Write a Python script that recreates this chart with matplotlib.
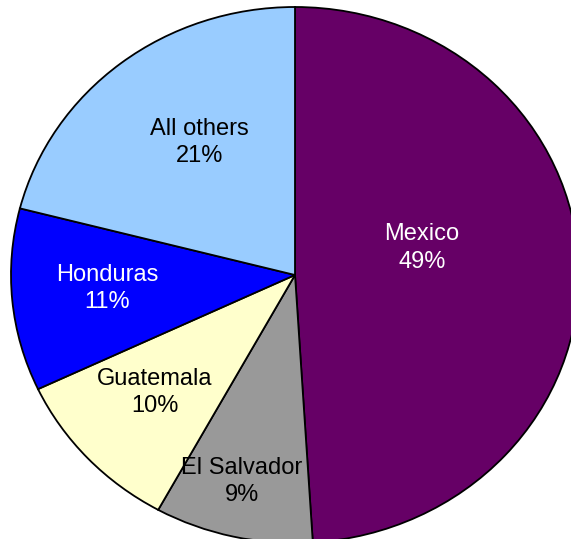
import matplotlib.pyplot as plt

plt.rcParams['font.family'] = ['Liberation Sans', 'DejaVu Sans']

countries = ['Mexico', 'El Salvador', 'Guatemala', 'Honduras', 'All others']
shares = [49, 9, 10, 11, 21]
colors = ['#660066', '#999999', '#FFFFCC', '#0000FF', '#99CCFF']
text_colors = ['white', 'black', 'black', 'white', 'black']
# label centres in data units (radius = 1)
label_pos = [(0.447, 0.100), (-0.187, -0.770), (-0.493, -0.438),
             (-0.662, -0.050), (-0.335, 0.495)]

fig = plt.figure(figsize=(5.71, 5.39), dpi=100)
ax = fig.add_axes([0, 0, 1, 1])

wedges, _ = ax.pie(shares, colors=colors, startangle=90, counterclock=False,
                   wedgeprops=dict(edgecolor='black', linewidth=1.3))

for name, val, c, (x, y) in zip(countries, shares, text_colors, label_pos):
    ax.text(x, y, f'{name}\n{val}%', ha='center', va='center',
            color=c, fontsize=17, linespacing=1.32)

# slightly squashed pie, cropped at right/bottom like the original
ax.set_aspect('auto')
rx, ry = 284, 268
cx, cy = 295, 275
ax.set_xlim(-cx / rx, (571 - cx) / rx)
ax.set_ylim(-(539 - cy) / ry, cy / ry)
ax.axis('off')

fig.savefig('out.png', dpi=100)
